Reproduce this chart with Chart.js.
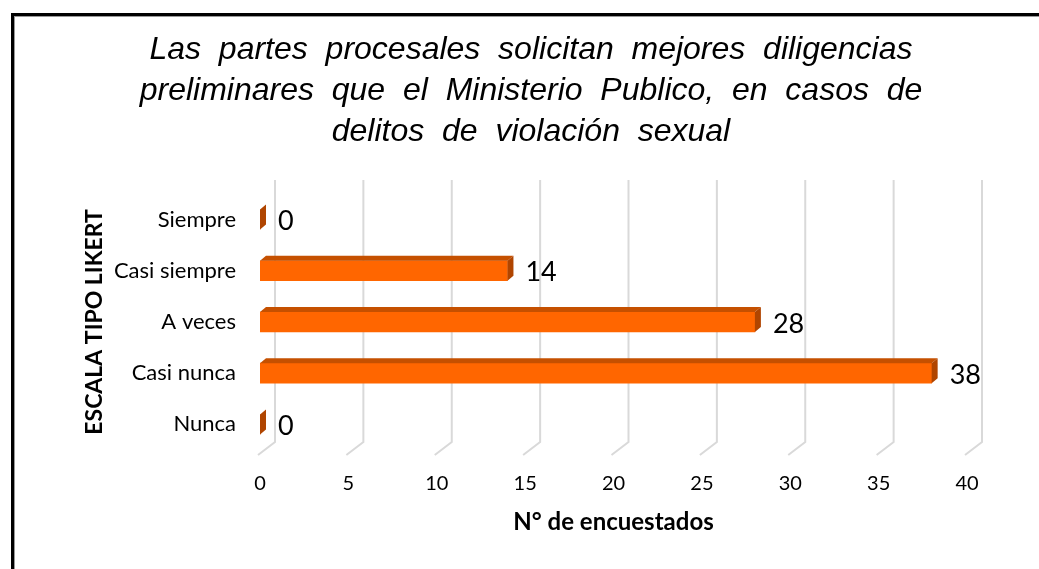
<!DOCTYPE html>
<html>
<head>
<meta charset="utf-8">
<script src="https://cdn.jsdelivr.net/npm/chart.js@4/dist/chart.umd.min.js"></script>
<style>
  html, body { margin: 0; padding: 0; background: #fff; }
  #wrap { position: relative; width: 1039px; height: 569px; overflow: hidden; }
  #frame {
    position: absolute; left: 11px; top: 13px; width: 1100px; height: 600px;
    border-top: 3px solid #000; border-left: 3px solid #000;
    box-shadow: inset 1px 1px 0 #999;
  }
  canvas { position: absolute; left: 0; top: 0; }
</style>
</head>
<body>
<div id="wrap">
  <div id="frame"></div>
  <canvas id="chart" width="1039" height="569"></canvas>
</div>
<script>
// chart data
const categories = ['Siempre', 'Casi siempre', 'A veces', 'Casi nunca', 'Nunca'];
const respondents = [0, 14, 28, 38, 0];
// the original title has wide gaps between words
const titleLines = [
  'Las  partes  procesales  solicitan  mejores  diligencias',
  'preliminares  que  el  Ministerio  Publico,  en  casos  de',
  'delitos  de  violación  sexual'
];
const xAxisTitle = 'N° de encuestados';
const yAxisTitle = 'ESCALA TIPO LIKERT';

const labelFont = 'Lato, "Open Sans", sans-serif';

// 3D look: slanted floor gridlines behind the bars
const gridWall = {
  id: 'gridWall',
  beforeDatasetsDraw(chart) {
    const { ctx, chartArea, scales } = chart;
    const x = scales.x;
    ctx.save();
    ctx.strokeStyle = '#d9d9d9';
    ctx.lineWidth = 2;
    x.ticks.forEach(t => {
      const fx = x.getPixelForValue(t.value) - 2;
      const bx = fx + 17;
      ctx.beginPath();
      ctx.moveTo(bx, chartArea.top - 14);
      ctx.lineTo(bx, chartArea.bottom - 8);
      ctx.lineTo(fx, chartArea.bottom + 5);
      ctx.stroke();
    });
    ctx.restore();
  }
};

// top and side faces of each bar, plus value labels
const bar3d = {
  id: 'bar3d',
  afterDatasetsDraw(chart) {
    const { ctx } = chart;
    const meta = chart.getDatasetMeta(0);
    const dx = 6, dy = 5;
    ctx.save();
    meta.data.forEach((bar, i) => {
      const x0 = bar.base, x1 = bar.x;
      const top = bar.y - bar.height / 2, bottom = bar.y + bar.height / 2;
      ctx.fillStyle = '#c55000';
      ctx.beginPath();
      ctx.moveTo(x0, top);
      ctx.lineTo(x0 + dx, top - dy);
      ctx.lineTo(x1 + dx, top - dy);
      ctx.lineTo(x1, top);
      ctx.closePath();
      ctx.fill();
      ctx.fillStyle = '#b04500';
      ctx.beginPath();
      ctx.moveTo(x1, top);
      ctx.lineTo(x1 + dx, top - dy);
      ctx.lineTo(x1 + dx, bottom - dy);
      ctx.lineTo(x1, bottom);
      ctx.closePath();
      ctx.fill();

      ctx.fillStyle = '#000';
      ctx.font = '27px ' + labelFont;
      ctx.textAlign = 'left';
      ctx.textBaseline = 'middle';
      ctx.fillText(String(respondents[i]), x1 + 18, bar.y + 2);
    });
    ctx.restore();
  }
};

new Chart(document.getElementById('chart'), {
  type: 'bar',
  data: {
    labels: categories,
    datasets: [{
      data: respondents,
      backgroundColor: '#ff6600',
      borderWidth: 0,
      barThickness: 20
    }]
  },
  plugins: [gridWall, bar3d],
  options: {
    indexAxis: 'y',
    responsive: false,
    animation: false,
    layout: { padding: { left: 95, right: 72, top: 0, bottom: 25 } },
    plugins: {
      legend: { display: false },
      tooltip: { enabled: false },
      title: {
        display: true,
        text: titleLines,
        color: '#000',
        font: { family: '"Liberation Sans", Arial, sans-serif', size: 32, style: 'italic', weight: 'normal', lineHeight: 1.27 },
        padding: { top: 30, bottom: 42 }
      }
    },
    scales: {
      x: {
        min: 0,
        max: 40,
        ticks: { stepSize: 5, color: '#000', font: { family: labelFont, size: 20 }, padding: 22 },
        grid: { display: false, drawTicks: false },
        border: { display: false },
        title: {
          display: true,
          text: xAxisTitle,
          color: '#000',
          font: { family: labelFont, size: 24, weight: 'bold' },
          padding: { top: 10, bottom: 7 }
        },
        afterFit(s) { s.height = 94; }
      },
      y: {
        ticks: { color: '#000', font: { family: labelFont, size: 22 }, padding: 24 },
        grid: { display: false, drawTicks: false },
        border: { display: false },
        title: {
          display: true,
          text: yAxisTitle,
          color: '#000',
          font: { family: labelFont, size: 23, weight: 'bold' },
          padding: { top: -14 }
        },
        afterFit(s) { s.width = 165; }
      }
    }
  }
});
</script>
</body>
</html>
